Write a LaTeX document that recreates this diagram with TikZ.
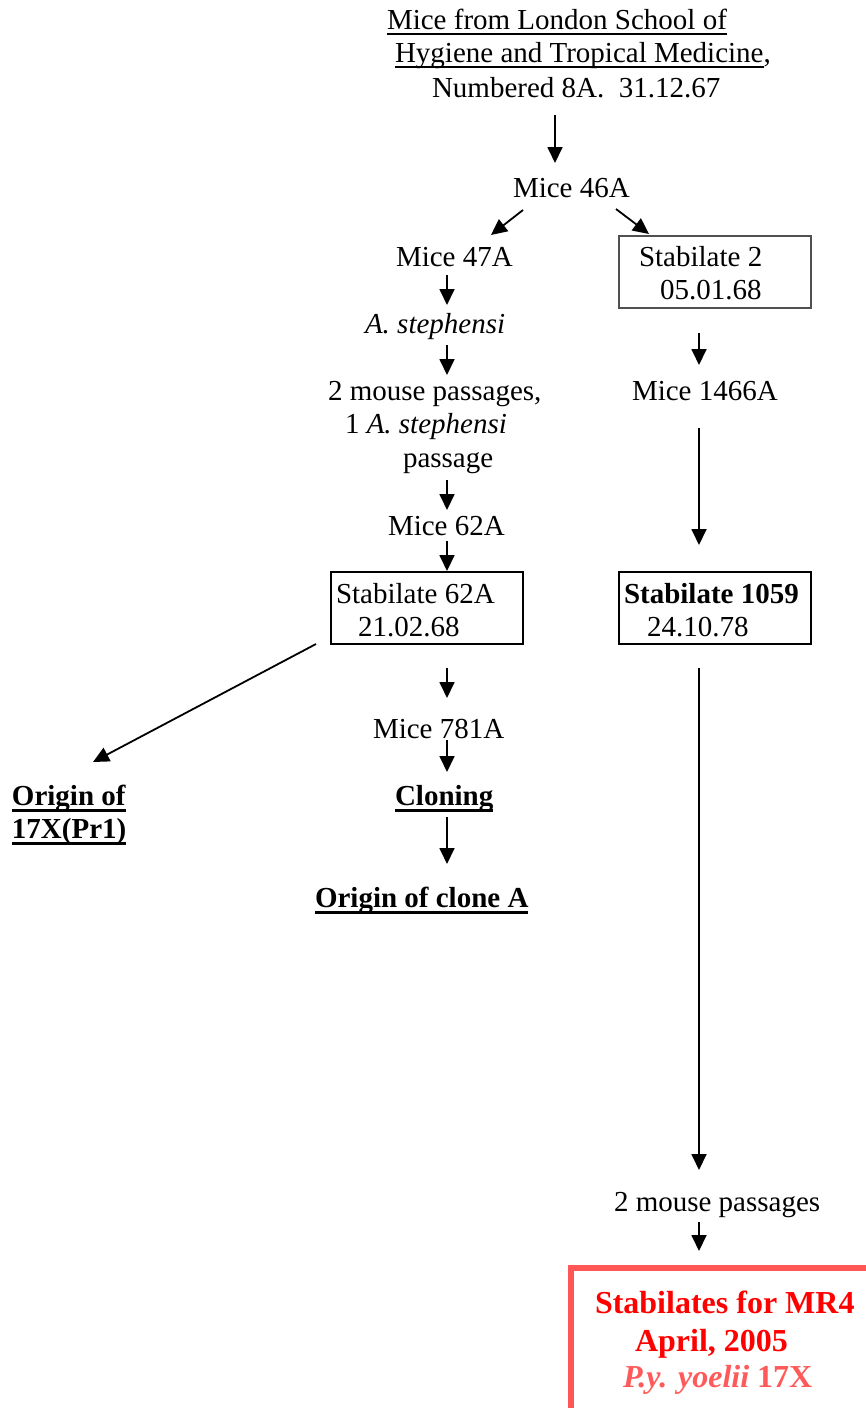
\documentclass[tikz,border=0pt]{standalone}
\usepackage{fontspec}
\setmainfont{Liberation Serif}
\usetikzlibrary{arrows.meta,calc}
\definecolor{boxred}{HTML}{FF5656}
\definecolor{lightred}{HTML}{FF5A5A}
\definecolor{pureRed}{HTML}{FF0000}
\definecolor{boxgrey}{HTML}{505050}
\newcommand\myul[1]{\setbox0\hbox{#1}\rlap{\rule[-5.5pt]{\wd0}{1.4pt}}\box0}
\newcommand\myulb[1]{\setbox0\hbox{#1}\rlap{\rule[-6.5pt]{\wd0}{2.2pt}}\box0}
\begin{document}
\begin{tikzpicture}[x=1pt,y=-1pt,
  txt/.style={inner sep=0pt,outer sep=0pt,anchor=base west,text height=20pt,text depth=6pt,font=\fontsize{29}{35}\selectfont},
  boldtxt/.style={txt,font=\fontsize{29}{35}\selectfont\bfseries},
  redtxt/.style={txt,font=\fontsize{32}{38}\selectfont\bfseries,text=pureRed},
  stabbox/.style={draw,line width=1.8pt,inner sep=0pt,outer sep=0pt,anchor=north west,minimum width=192pt,minimum height=72pt},
  arr/.style={line width=1.8pt,-{Triangle[width=15pt,length=16pt]}}]
\useasboundingbox (0,0) rectangle (865,1408);
% column axes
\coordinate (colM) at (555,0);
\coordinate (colL) at (447,0);
\coordinate (colR) at (699,0);
% title
\node[txt] (t1) at (387,29) {\myul{Mice from London School of}};
\node[txt] (t2) at (395,62) {\myul{Hygiene and Tropical Medicine},};
\node[txt] (t3) at (432,97) {Numbered 8A.\ \ 31.12.67};
\node[txt] (m46) at (513,197) {Mice 46A};
\node[txt] (m47) at (396,266) {Mice 47A};
% stabilate 2
\node[stabbox,draw=boxgrey,line width=1.2pt] (b2) at (619,236) {};
\node[txt] (s2a) at (639,266) {Stabilate 2};
\node[txt] (s2b) at (660,299) {05.01.68};
% left column
\node[txt] (as1) at (365,333) {\itshape A. stephensi};
\node[txt] (mp1) at (328,400) {2 mouse passages,};
\node[txt] (mp2) at (345,433) {1 \textit{A. stephensi}};
\node[txt] (mp3) at (403,467) {passage};
\node[txt] (m62) at (388,535) {Mice 62A};
\node[stabbox] (b62) at (331,572) {};
\node[txt] (s62a) at (336,603) {Stabilate 62A};
\node[txt] (s62b) at (358,636) {21.02.68};
\node[txt] (m781) at (373,738) {Mice 781A};
\node[boldtxt] (clon) at (395,805) {\myulb{Cloning}};
\node[boldtxt] (oc) at (315,907) {\myulb{Origin of clone A}};
\node[boldtxt] (o17a) at (12,805) {\myulb{Origin of}};
\node[boldtxt] (o17b) at (12,838) {\myulb{17X(Pr1)}};
% right column
\node[txt] (m1466) at (632,400) {Mice 1466A};
\node[stabbox] (b1059) at (619,572) {};
\node[boldtxt] (s59a) at (624,603) {Stabilate 1059};
\node[txt] (s59b) at (647,636) {24.10.78};
\node[txt] (mp2m) at (614,1211) {2 mouse passages};
\node[draw=boxred,line width=6pt,inner sep=0pt,outer sep=0pt,anchor=north west,minimum width=400pt,minimum height=200pt] (rb) at (571,1268) {};
\node[redtxt] (r1) at (595,1313) {Stabilates for MR4};
\node[redtxt] (r2) at (635,1351) {April, 2005};
\node[redtxt,text=lightred] (r3) at (623,1387) {\textit{P.y. yoelii} 17X};
% connectors
\draw[arr,shorten <=12pt,shorten >=14pt] (t3.south -| colM) -- (m46.north -| colM);
\draw[arr] ($(m46.base west)+(10,13)$) -- ($(m47.base west)+(95,-31)$);
\draw[arr] ($(m46.base west)+(103,12)$) -- ($(b2.north west)+(30,-2)$);
\draw[arr,shorten <=3pt,shorten >=8pt] (m47.south -| colL) -- (as1.north -| colL);
\draw[arr,shorten <=6pt,shorten >=5pt] (as1.south -| colL) -- (mp1.north -| colL);
\draw[arr,shorten <=7pt,shorten >=5pt] (mp3.south -| colL) -- (m62.north -| colL);
\draw[arr,shorten >=1pt] (m62.south -| colL) -- (b62.north -| colL);
\draw[arr] ($(b62.south west)+(-15,0)$) -- ($(o17a.base west)+(81,-43)$);
\draw[arr,shorten <=24pt,shorten >=20pt] (b62.south -| colL) -- (m781.north -| colL);
\draw[arr,shorten <=-4pt,shorten >=13pt] (m781.south -| colL) -- (clon.north -| colL);
\draw[arr,shorten <=6pt,shorten >=23pt] (clon.south -| colL) -- (oc.north -| colL);
\draw[arr,shorten <=25pt,shorten >=15pt] (b2.south -| colR) -- (m1466.north -| colR);
\draw[arr,shorten <=22pt,shorten >=27pt] (m1466.south -| colR) -- (b1059.north -| colR);
\draw[arr,shorten <=24pt,shorten >=21pt] (b1059.south -| colR) -- (mp2m.north -| colR);
\draw[arr,shorten <=5pt,shorten >=17pt] (mp2m.south -| colR) -- (rb.north -| colR);
\end{tikzpicture}
\end{document}
